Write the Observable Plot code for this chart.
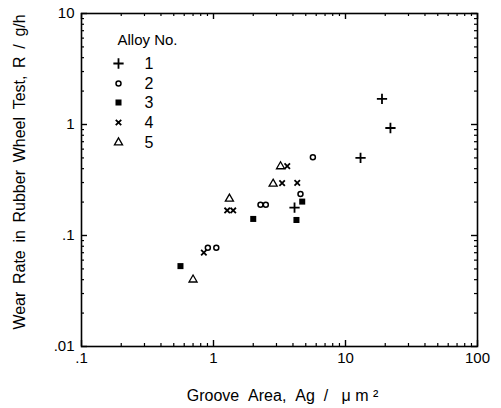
<!DOCTYPE html>
<html><head><meta charset="utf-8">
<script src="https://cdn.jsdelivr.net/npm/d3@7"></script>
<script src="https://cdn.jsdelivr.net/npm/@observablehq/plot@0.6"></script>
<style>body{margin:0;background:#fff}</style>
</head><body><div id="chart"></div>
<script>
// Data (Groove area µm², wear rate g/h)
const alloy1X = [18.9, 21.9, 13.0, 4.11];
const alloy1Y = [1.70, 0.93, 0.50, 0.178];
const alloy2X = [5.66, 4.56, 2.27, 2.49, 0.906, 1.05];
const alloy2Y = [0.508, 0.237, 0.189, 0.189, 0.0775, 0.0775];
const alloy3X = [2.0, 4.25, 4.70, 0.562];
const alloy3Y = [0.141, 0.138, 0.202, 0.053];
const alloy4X = [3.62, 3.31, 4.31, 1.27, 1.41, 0.845];
const alloy4Y = [0.421, 0.296, 0.298, 0.168, 0.168, 0.070];
const alloy5X = [3.22, 2.83, 1.32, 0.70];
const alloy5Y = [0.419, 0.292, 0.214, 0.040];

const legendTitle = "Alloy No.";
const legendLabels = ["1", "2", "3", "4", "5"];
const xTicks = [0.1, 1, 10, 100];
const xTickLabels = [".1", "1", "10", "100"];
const yTicks = [0.01, 0.1, 1, 10];
const yTickLabels = [".01", ".1", "1", "10"];
const xTitle = "Groove\u00a0\u00a0Area,\u00a0\u00a0Ag\u00a0\u00a0/\u00a0\u00a0\u00a0\u03bc\u00a0m\u00a0\u00b2";
const yTitle = "Wear Rate in Rubber Wheel Test, R / g/h".replace(/ /g, "\u00a0\u2009");

const W = 501, H = 408, mL = 81, mR = 24, mT = 13, mB = 62;
const fw = W - mL - mR, fh = H - mT - mB;

const pts = (X, Y) => X.map((x, i) => ({x, y: Y[i]}));
const minor = (lo, hi) => d3.range(Math.log10(lo), Math.log10(hi)).flatMap(e => d3.range(2, 10).map(m => m * 10 ** e));
const xMinor = minor(0.1, 100);
const yMinor = minor(0.01, 10);
const xFmt = d => xTickLabels[xTicks.indexOf(d)];
const yFmt = d => yTickLabels[yTicks.indexOf(d)];

const font = "Liberation Sans, Arial, Helvetica, sans-serif";
const styles = [
  {symbol: "plus", r: 3.4, stroke: "black", strokeWidth: 1.8, fill: "none"},
  {symbol: "circle", r: 2.5, stroke: "black", strokeWidth: 1.5, fill: "none"},
  {symbol: "square", r: 3.4, fill: "black", stroke: "none"},
  {symbol: "times", r: 2.6, stroke: "black", strokeWidth: 1.8, fill: "none"},
  {symbol: "triangle", r: 3.0, stroke: "black", strokeWidth: 1.3, fill: "none"}
];
const series = [pts(alloy1X, alloy1Y), pts(alloy2X, alloy2Y), pts(alloy3X, alloy3Y), pts(alloy4X, alloy4Y), pts(alloy5X, alloy5Y)];
const rowDy = [50, 70, 89, 109, 129];

const MAJ = 6, MIN = 3;
const marks = [
  // inside ticks (bottom, top, left, right)
  Plot.ruleX(xTicks, {x: d => d, insetTop: fh - MAJ, strokeWidth: 1.4}),
  Plot.ruleX(xMinor, {x: d => d, insetTop: fh - MIN, strokeWidth: 1.2}),
  Plot.ruleX(xTicks, {x: d => d, insetBottom: fh - MAJ, strokeWidth: 1.4}),
  Plot.ruleX(xMinor, {x: d => d, insetBottom: fh - MIN, strokeWidth: 1.2}),
  Plot.ruleY(yTicks, {y: d => d, insetRight: fw - MAJ, strokeWidth: 1.4}),
  Plot.ruleY(yMinor, {y: d => d, insetRight: fw - MIN, strokeWidth: 1.2}),
  Plot.ruleY(yTicks, {y: d => d, insetLeft: fw - MAJ, strokeWidth: 1.4}),
  Plot.ruleY(yMinor, {y: d => d, insetLeft: fw - MIN, strokeWidth: 1.2}),
  Plot.frame({stroke: "black", strokeWidth: 1.6}),
  // tick labels
  Plot.axisX(xTicks, {anchor: "bottom", tickSize: 0, tickPadding: 6, tickFormat: xFmt, label: null, fontSize: 15, fill: "black"}),
  Plot.axisY(yTicks, {anchor: "left", tickSize: 0, tickPadding: 7, tickFormat: yFmt, label: null, fontSize: 15, fill: "black"}),
  // axis titles
  Plot.text([xTitle], {frameAnchor: "bottom", dy: 49, dx: 3, lineAnchor: "middle", textAnchor: "middle", fontSize: 16, fill: "black"}),
  Plot.text([yTitle], {frameAnchor: "left", dx: -62, dy: -8, rotate: -90, textAnchor: "middle", lineAnchor: "middle", fontSize: 16, fill: "black"}),
  // legend
  Plot.text([legendTitle], {frameAnchor: "top-left", dx: 36, dy: 27, textAnchor: "start", lineAnchor: "middle", fontSize: 15, fill: "black"})
];
series.forEach((data, k) => {
  const s = styles[k];
  marks.push(Plot.dot(data, {x: "x", y: "y", ...s}));
  marks.push(Plot.dot([legendLabels[k]], {frameAnchor: "top-left", dx: 37, dy: rowDy[k], ...s}));
  marks.push(Plot.text([legendLabels[k]], {frameAnchor: "top-left", dx: 63, dy: rowDy[k], textAnchor: "start", lineAnchor: "middle", fontSize: 16, fill: "black"}));
});

const chart = Plot.plot({
  width: W,
  height: H,
  marginLeft: mL,
  marginRight: mR,
  marginTop: mT,
  marginBottom: mB,
  style: {fontFamily: font, background: "white", color: "black"},
  x: {type: "log", domain: [0.1, 100], axis: null},
  y: {type: "log", domain: [0.01, 10], axis: null},
  marks
});
document.getElementById("chart").append(chart);
</script>
</body></html>
